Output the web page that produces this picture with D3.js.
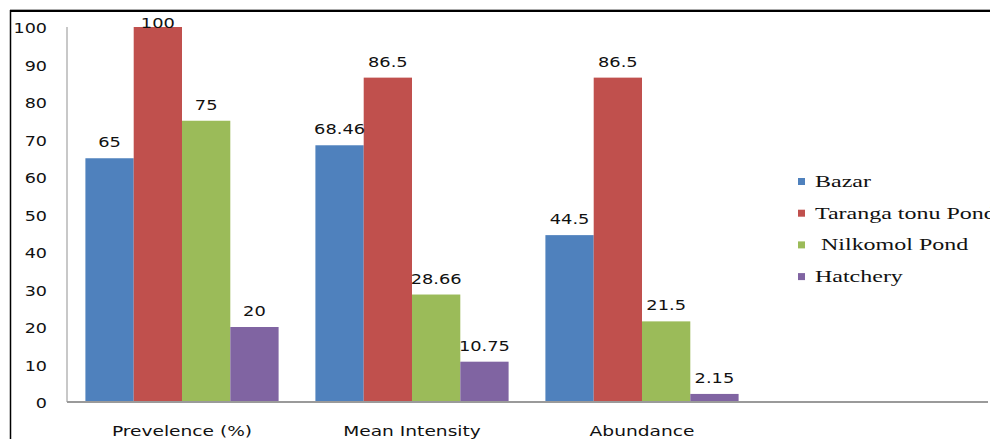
<!DOCTYPE html>
<html>
<head>
<meta charset="utf-8">
<script src="https://cdn.jsdelivr.net/npm/d3@7"></script>
<style>
html,body{margin:0;padding:0;background:#fff;overflow:hidden;}
svg{display:block;}
</style>
</head>
<body>
<svg id="chart" width="990" height="439"></svg>
<script>
const categories = ["Prevelence (%)", "Mean Intensity", "Abundance", ""];
const seriesNames = ["Bazar", "Taranga tonu Pond", " Nilkomol Pond", "Hatchery"];
const bazar = [65, 68.46, 44.5, null];
const taranga = [100, 86.5, 86.5, null];
const nilkomol = [75, 28.66, 21.5, null];
const hatchery = [20, 10.75, 2.15, null];
const yTicks = [0, 10, 20, 30, 40, 50, 60, 70, 80, 90, 100];
const colors = ["#4F81BD", "#C0504D", "#9BBB59", "#8064A2"];

(function () {
const seriesValues = [bazar, taranga, nilkomol, hatchery];
const svg = d3.select("#chart");

const pLeft = 67, pRight = 987, pTop = 27, pBottom = 402;

const x0 = d3.scaleBand().domain(categories.map((c, i) => i)).range([pLeft, pRight]).paddingInner(0.16).paddingOuter(0.08);
const x1 = d3.scaleBand().domain(seriesNames.map((s, i) => i)).range([0, x0.bandwidth()]);
const y = d3.scaleLinear().domain([0, 100]).range([pBottom, pTop]);

function stretched(g, x, yy, txt, opts) {
  const t = g.append("text")
    .attr("transform", `translate(${x},${yy}) scale(${opts.sx},1)`)
    .attr("text-anchor", opts.anchor || "middle")
    .attr("font-family", opts.family)
    .attr("font-size", opts.size)
    .attr("fill", opts.fill || "#000")
    .text(txt);
  if (opts.weight) t.attr("font-weight", opts.weight);
  return t;
}

// frame
svg.append("line").attr("x1", 10).attr("x2", 990).attr("y1", 11).attr("y2", 11).attr("stroke", "#000").attr("stroke-width", 2);
svg.append("line").attr("x1", 10).attr("x2", 990).attr("y1", 9.5).attr("y2", 9.5).attr("stroke", "#aaa").attr("stroke-width", 1);
svg.append("line").attr("x1", 10.5).attr("x2", 10.5).attr("y1", 10).attr("y2", 439).attr("stroke", "#000").attr("stroke-width", 1.5);

// y axis line
svg.append("line").attr("x1", pLeft).attr("x2", pLeft).attr("y1", pTop).attr("y2", pBottom).attr("stroke", "#c8c8c8").attr("stroke-width", 2);

// y tick labels
const yg = svg.append("g");
yTicks.forEach(v => {
  stretched(yg, 47, y(v) + 6, String(v), {sx: 1.3, anchor: "end", family: "DejaVu Sans", size: 13.5, fill: "#111"});
});

// bars
const bars = svg.append("g");
categories.forEach((c, ci) => {
  seriesValues.forEach((vals, si) => {
    const v = vals[ci];
    if (v == null) return;
    const bx = x0(ci) + x1(si);
    bars.append("rect")
      .attr("x", bx).attr("y", y(v))
      .attr("width", x1.bandwidth()).attr("height", y(0) - y(v))
      .attr("fill", colors[si]);
  });
});

// x axis line
svg.append("line").attr("x1", pLeft).attr("x2", 988).attr("y1", pBottom).attr("y2", pBottom).attr("stroke", "#9a9a9a").attr("stroke-width", 2);

// data labels
const lg = svg.append("g");
categories.forEach((c, ci) => {
  seriesValues.forEach((vals, si) => {
    const v = vals[ci];
    if (v == null) return;
    const cx = x0(ci) + x1(si) + x1.bandwidth() / 2;
    const by = Math.max(y(v) - 11, pTop + 1);
    stretched(lg, cx, by, String(v), {sx: 1.32, family: "DejaVu Sans", size: 13.5, fill: "#111"});
  });
});

// category labels
const cg = svg.append("g");
categories.forEach((c, ci) => {
  if (!c) return;
  stretched(cg, x0(ci) + x0.bandwidth() / 2, 436, c, {sx: 1.38, family: "DejaVu Sans", size: 13.5, fill: "#111"});
});

// legend
const leg = svg.append("g");
seriesNames.forEach((s, i) => {
  const ry = 182 + i * 31.7;
  leg.append("rect").attr("x", 798).attr("y", ry - 4).attr("width", 7).attr("height", 7).attr("fill", colors[i]);
  stretched(leg, 815, ry + 5, s, {sx: 1.5, anchor: "start", family: "Liberation Serif", size: 16, fill: "#111"}).attr("xml:space", "preserve").style("white-space", "pre");
});
})();
</script>
</body>
</html>
